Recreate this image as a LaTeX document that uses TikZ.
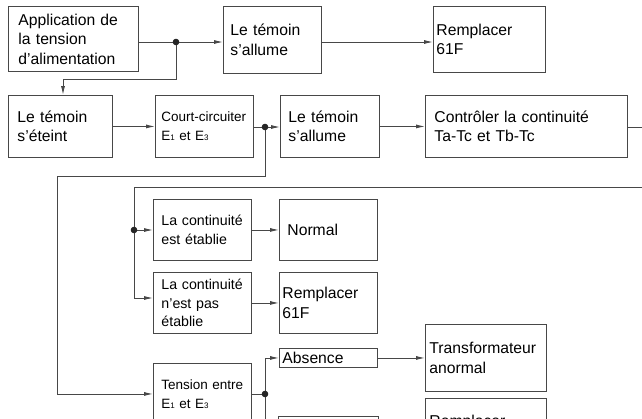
\documentclass[tikz,border=0pt]{standalone}
\usepackage{fontspec}
\setmainfont{Liberation Sans}
\usepackage{tikz}
\usetikzlibrary{arrows.meta}
\tikzset{>={Latex[length=9pt,width=4pt]}}
\newcommand\idx[1]{{\fontsize{8}{8}\selectfont #1}}

\begin{document}
\begin{tikzpicture}[x=1pt, y=-1pt, line width=0.9pt, draw=black!72,
    blk/.style={draw=black!72, anchor=north west, align=left, inner ysep=0pt},
    big/.style={font=\fontsize{15.7}{19.5}\selectfont},
    mid/.style={font=\fontsize{14.2}{18.5}\selectfont},
    sml/.style={font=\fontsize{13.5}{19}\selectfont}]
      \useasboundingbox (0,0) rectangle (642,418);
      \clip (0,0) rectangle (642,418);
      % first row
      \node[blk, big, minimum height=65pt, inner xsep=10pt, text width=110pt] (app) at (8,6) {Application de\\la tension\\d'alimentation};
      \node[blk, big, minimum height=67pt, inner xsep=7pt, text width=84pt] (allume1) at (223,6) {Le témoin\\s'allume};
      \node[blk, big, minimum height=66pt, inner xsep=3pt, text width=106pt] (rempl1) at (433,6) {Remplacer\\61F};
      % second row
      \node[blk, big, minimum height=62pt, inner xsep=9pt, text width=86pt] (eteint) at (8,95) {Le témoin\\s'éteint};
      \node[blk, sml, minimum height=62pt, inner xsep=6pt, text width=86pt] (court) at (155,95) {Court-circuiter\\E\idx{1} et E\idx{3}};
      \node[blk, big, minimum height=62pt, inner xsep=8pt, text width=83pt] (allume2) at (280,95) {Le témoin\\s'allume};
      \node[blk, big, minimum height=62pt, inner xsep=9pt, text width=184pt] (controle) at (425,95) {Contrôler la continuité\\Ta-Tc et Tb-Tc};
      % continuity
      \node[blk, mid, minimum height=61pt, inner xsep=8pt, text width=82pt] (etablie) at (153,199) {La continuité\\est établie};
      \node[blk, mid, minimum height=61pt, inner xsep=8pt, text width=82pt] (pasetablie) at (153,272) {La continuité\\n'est pas\\établie};
      \node[blk, big, minimum height=61pt, inner xsep=8pt, text width=82pt] (normal) at (279,199) {Normal};
      \node[blk, big, minimum height=61pt, inner xsep=3pt, text width=92pt] (rempl2) at (279,272) {Remplacer\\61F};
      % voltage
      \node[blk, big, minimum height=19pt, inner xsep=3pt, text width=92pt] (absence) at (279,348) {Absence};
      \node[blk, big, minimum height=67pt, inner xsep=4pt, text width=113pt] (transfo) at (425,324) {Transformateur\\anormal};
      \node[blk, sml, minimum height=61pt, inner xsep=8pt, text width=82pt] (tension) at (153,363) {Tension entre\\E\idx{1} et E\idx{3}};
      \node[blk, minimum height=40pt, minimum width=100pt] (presence) at (278,416) {};
      \node[blk, big, inner ysep=17pt, text depth=40pt, inner xsep=4pt, text width=113pt] (rempl3) at (425,398) {Remplacer};

      \coordinate (j1) at (176,42);
      \coordinate (k1) at (63,79);
      \coordinate (j2) at (265,127);
      \coordinate (k2) at (57,176);
      \coordinate (r1) at (650,127);
      \coordinate (r2) at (650,187);
      \coordinate (j3) at (134,230);
      \coordinate (k5) at (134,298);
      \coordinate (j4) at (265,394);
      \coordinate (k7) at (265,430);

      \draw (app.east |- j1) -- (j1);
      \draw[->] (j1) -- (allume1.west |- j1);
      \draw[->] (j1) |- (k1) -- (k1 |- eteint.north);
      \draw[->] (allume1.east |- j1) -- (rempl1.west |- j1);
      \draw[->] (eteint) -- (court);
      \draw (court.east |- j2) -- (j2);
      \draw[->] (j2) -- (allume2.west |- j2);
      \draw[->] (j2) |- (k2) |- (tension.west);
      \draw[->] (allume2) -- (controle);
      \draw (controle.east |- j2) -- (r1);
      \draw (r2) -| (j3);
      \draw[->] (j3) -- (etablie.west |- j3);
      \draw[->] (j3) -- (k5) -- (pasetablie.west |- k5);
      \draw[->] (etablie) -- (normal);
      \draw[->] (pasetablie) -- (rempl2);
      \draw (tension.east |- j4) -- (j4) -- (k7);
      \draw[->] (j4) |- (absence.west);
      \draw[->] (absence) -- (transfo);

      \filldraw[black!85] (j1) circle (2.8pt);
      \filldraw[black!85] (j2) circle (2.8pt);
      \filldraw[black!85] (j3) circle (2.8pt);
      \filldraw[black!85] (j4) circle (2.8pt);
    \end{tikzpicture}
\end{document}
